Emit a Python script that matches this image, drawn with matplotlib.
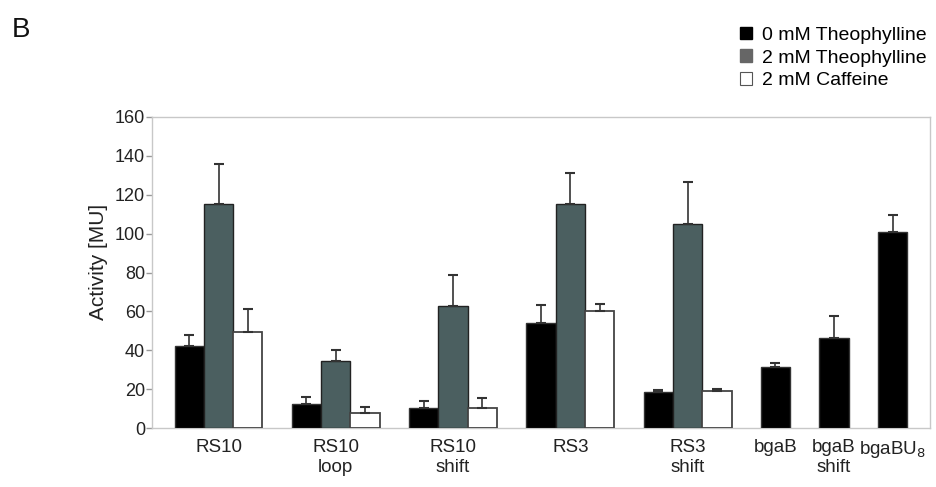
import matplotlib
matplotlib.use("Agg")
import matplotlib.pyplot as plt
from matplotlib.patches import Patch
import numpy as np

plt.rcParams['font.family'] = ['Liberation Sans', 'DejaVu Sans']

categories = ["RS10", "RS10\nloop", "RS10\nshift", "RS3", "RS3\nshift", "bgaB", "bgaB\nshift", "bgaBU$_8$"]
series_names = ["0 mM Theophylline", "2 mM Theophylline", "2 mM Caffeine"]

theo0 = [42.4, 12.5, 10.2, 54.2, 18.6, 31.2, 46.5, 101.0]
theo0_err = [5.2, 3.5, 3.8, 9.1, 1.0, 2.4, 11.0, 8.5]
theo2 = [115.4, 34.6, 62.8, 115.0, 104.9]
theo2_err = [20.4, 5.6, 15.8, 16.4, 21.6]
caff = [49.3, 7.8, 10.3, 60.1, 19.2]
caff_err = [12.0, 2.8, 5.0, 3.9, 1.0]

# slot positions (bar units)
group_slots = [0, 4, 8, 12, 16]
single_slots = [20, 22, 24]

fig = plt.figure(figsize=(9.37, 4.87), dpi=100)
ax = fig.add_axes([0.1622, 0.1211, 0.8303, 0.6387])

black = "#000000"
gray = "#4b5f60"
edge = "#333333"
errc = "#333333"

x0 = np.array(group_slots + single_slots, dtype=float)
x1 = np.array(group_slots, dtype=float) + 1
x2 = np.array(group_slots, dtype=float) + 2

ekw = dict(ecolor=errc, elinewidth=1.2, capsize=3.5, capthick=1.5)
ax.bar(x0, theo0, width=1.0, color=black, edgecolor=edge, linewidth=1.0,
       yerr=[np.zeros(len(theo0)), theo0_err], error_kw=ekw, zorder=3)
ax.bar(x1, theo2, width=1.0, color=gray, edgecolor="#222222", linewidth=1.0,
       yerr=[np.zeros(len(theo2)), theo2_err], error_kw=ekw, zorder=3)
ax.bar(x2, caff, width=1.0, color="white", edgecolor="#444444", linewidth=1.3,
       yerr=[np.zeros(len(caff)), caff_err], error_kw=ekw, zorder=3)

label_pos = [g + 1 for g in group_slots] + single_slots
ax.set_xticks(label_pos)
ax.set_xticklabels(categories, fontsize=13.5, color="#222222", linespacing=1.2, va="top")
ax.tick_params(axis="x", length=0, pad=8)
ax.set_xlim(-1.27, 25.27)

ax.set_ylim(0, 160)
ax.set_yticks(np.arange(0, 161, 20))
ax.tick_params(axis="y", length=4, width=1, color="#999999", labelsize=13, labelcolor="#222222", pad=1)
ax.set_ylabel("Activity [MU]", fontsize=15, color="#222222")
ax.yaxis.set_label_coords(-0.0566, 0.534)

for s in ax.spines.values():
    s.set_color("#c8c8c8")
    s.set_linewidth(1.0)

handles = [Patch(facecolor="black", edgecolor="black"),
           Patch(facecolor="#666666", edgecolor="#666666"),
           Patch(facecolor="white", edgecolor="#555555", linewidth=0.8)]
fig.legend(handles, series_names, loc="upper left", bbox_to_anchor=(0.7898, 0.945),
           frameon=False, fontsize=14, handlelength=0.62, handleheight=0.62,
           handletextpad=0.5, labelspacing=0.28, borderaxespad=0, borderpad=0)

fig.text(0.013, 0.938, "B", fontsize=20, color="#111111", va="center")

fig.savefig("out.png", dpi=100)
